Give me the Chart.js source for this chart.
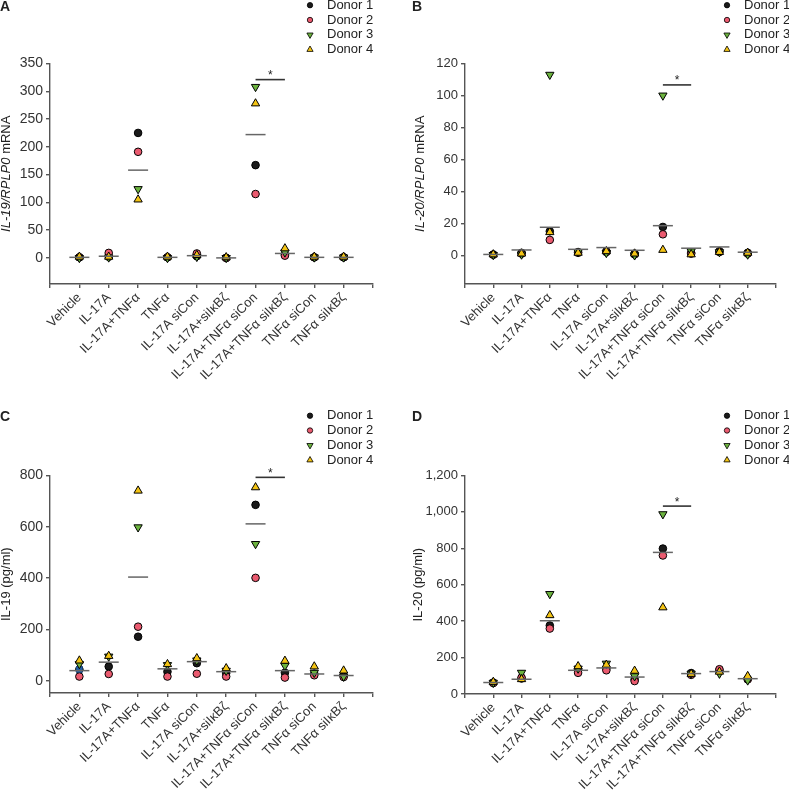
<!DOCTYPE html>
<html>
<head>
<meta charset="utf-8">
<script src="https://cdn.jsdelivr.net/npm/chart.js@4.4.1/dist/chart.umd.min.js"></script>
<style>
  html, body { margin: 0; padding: 0; background: #fff; }
  #wrap { position: relative; width: 789px; height: 794px; overflow: hidden; }
  canvas { position: absolute; }
</style>
</head>
<body>
<div id="wrap">
  <canvas id="chartA" width="394" height="397" style="left:0;top:0"></canvas>
  <canvas id="chartB" width="394" height="397" style="left:395px;top:0"></canvas>
  <canvas id="chartC" width="394" height="397" style="left:0;top:397px"></canvas>
  <canvas id="chartD" width="394" height="397" style="left:395px;top:397px"></canvas>
</div>
<script>
const FONT = '"Liberation Sans", Arial, sans-serif';
Chart.defaults.font.family = FONT;
Chart.defaults.font.size = 13;
Chart.defaults.color = '#333';

const categories = ['Vehicle', 'IL-17A', 'IL-17A+TNFα', 'TNFα', 'IL-17A siCon', 'IL-17A+siIκBζ',
  'IL-17A+TNFα siCon', 'IL-17A+TNFα siIκBζ', 'TNFα siCon', 'TNFα siIκBζ'];
const donors = ['Donor 1', 'Donor 2', 'Donor 3', 'Donor 4'];
const xTicks = [0, 1, 2, 3, 4, 5, 6, 7, 8, 9, 10, 11];

// A - IL-19/RPLP0 mRNA
const mrna19D1 = [1, 2, 225, 1, 3, 0, 167, 6, 1, 1];
const mrna19D2 = [1, 9, 191, 1, 8, 0, 115, 4, 1, 1];
const mrna19D3 = [0, 1, 124, 0, 2, 0, 308, 10, 1, 1];
const mrna19D4 = [2, 2, 105, 2, 5, 1, 278, 17, 2, 2];
const mrna19Median = [1, 3, 158, 1, 4, 0, 222, 8, 1, 1];
const mrna19Ticks = [0, 50, 100, 150, 200, 250, 300, 350];

// B - IL-20/RPLP0 mRNA
const mrna20D1 = [0.5, 1.5, 15, 2, 2.5, 1, 17.7, 1.5, 2.5, 1.5];
const mrna20D2 = [0.3, 1, 9.6, 1.5, 2, 0.5, 13.1, 1, 2, 1];
const mrna20D3 = [0.2, 0.5, 113, 2, 1.5, 0, 100, 2.5, 2, 0.5];
const mrna20D4 = [0.5, 1, 14.4, 1.5, 2.5, 1, 3.3, 0.5, 2, 1.5];
const mrna20Median = [0.5, 3.3, 17.5, 3.7, 4.8, 3.1, 18.5, 4.4, 5.2, 1.9];
const mrna20Ticks = [0, 20, 40, 60, 80, 100, 120];

// C - IL-19 (pg/ml)
const prot19D1 = [45, 56, 172, 36, 69, 30, 685, 32, 28, 20];
const prot19D2 = [17, 27, 211, 17, 28, 17, 401, 13, 22, 15];
const prot19D3 = [66, 95, 598, 62, 80, 40, 533, 59, 32, 17];
const prot19D4 = [79, 97, 740, 65, 88, 49, 753, 78, 56, 40];
const prot19Median = [40, 73, 404, 47, 75, 36, 611, 40, 27, 21];
const prot19Extra = [{x: 1, y: 45}];
const prot19Ticks = [0, 200, 400, 600, 800];

// D - IL-20 (pg/ml)
const prot20D1 = [63, 85, 376, 135, 140, 80, 798, 115, 130, 83];
const prot20D2 = [60, 90, 359, 116, 130, 71, 760, 105, 136, 80];
const prot20D3 = [62, 117, 549, 140, 167, 98, 987, 112, 112, 75];
const prot20D4 = [66, 81, 432, 152, 160, 127, 475, 110, 122, 98];
const prot20Median = [63, 81, 402, 130, 143, 93, 777, 112, 123, 84];
const prot20Ticks = [0, 200, 400, 600, 800, 1000, 1200];

// significance bar between group 7 and 8
const sigPair = [7, 8];

const decor = {
  id: 'decor',
  afterDraw(chart, args, o) {
    const ctx = chart.ctx, area = chart.chartArea;
    ctx.save();
    ctx.fillStyle = '#222';
    ctx.textAlign = 'left';
    ctx.textBaseline = 'middle';
    ctx.font = 'bold 14px ' + FONT;
    ctx.fillText(o.letter, o.letterX, o.letterY);

    // legend
    ctx.font = '13px ' + FONT;
    chart.data.datasets.slice(0, 4).forEach((ds, i) => {
      const y = o.legendY + i * 14.8;
      ctx.fillStyle = ds.pointBackgroundColor;
      ctx.strokeStyle = '#000';
      ctx.lineWidth = 0.8;
      Chart.helpers.drawPoint(ctx, {
        pointStyle: ds.pointStyle,
        rotation: ds.pointRotation || 0,
        radius: ds.pointStyle === 'circle' ? 2.7 : 3.6,
        borderWidth: 0.8
      }, o.legendX, y);
      ctx.fillStyle = '#222';
      ctx.fillText(ds.label, o.legendX + 17, y);
    });

    // y title with italic gene names
    ctx.save();
    ctx.translate(o.titleX, (area.top + area.bottom) / 2);
    ctx.rotate(-Math.PI / 2);
    const fontFor = it => (it ? 'italic ' : '') + '13px ' + FONT;
    let total = 0;
    o.title.forEach(([t, it]) => { ctx.font = fontFor(it); total += ctx.measureText(t).width; });
    let tx = -total / 2;
    ctx.fillStyle = '#222';
    o.title.forEach(([t, it]) => {
      ctx.font = fontFor(it);
      ctx.fillText(t, tx, 0);
      tx += ctx.measureText(t).width;
    });
    ctx.restore();

    // asterisk
    const xs = chart.scales.x, ys = chart.scales.y;
    ctx.font = '12px ' + FONT;
    ctx.textAlign = 'center';
    ctx.textBaseline = 'alphabetic';
    ctx.fillStyle = '#222';
    ctx.fillText('*', xs.getPixelForValue((sigPair[0] + sigPair[1]) / 2), ys.getPixelForValue(o.sigY) - 0.5);
    ctx.restore();
  }
};

const toPts = vals => vals.map((v, i) => ({x: i + 1, y: v}));
const axisGrid = {drawOnChartArea: false, tickLength: 4, color: '#555', lineWidth: 1.4};
const axisBorder = {color: '#555', width: 1.4};

const makePanel = (id, cfg) => {
  const datasets = [
    {label: donors[0], data: toPts(cfg.d1), pointStyle: 'circle', pointRadius: 3.8,
     pointBackgroundColor: '#1a1a1a', order: 6},
    {label: donors[1], data: toPts(cfg.d2), pointStyle: 'circle', pointRadius: 3.8,
     pointBackgroundColor: '#ea5a6f', order: 5},
    {label: donors[2], data: toPts(cfg.d3), pointStyle: 'triangle', pointRotation: 180, pointRadius: 4.8,
     pointBackgroundColor: '#6cb33f', order: 3},
    {label: donors[3], data: toPts(cfg.d4), pointStyle: 'triangle', pointRadius: 4.8,
     pointBackgroundColor: '#f4c414', order: 2},
    {label: 'median', data: toPts(cfg.med), pointStyle: 'line', pointRadius: 10,
     pointBorderColor: '#666', pointBorderWidth: 1.5, order: 1},
    {label: 'sig', data: sigPair.map(x => ({x, y: cfg.sigY})), showLine: true, pointRadius: 0,
     borderColor: '#333', borderWidth: 1.6, order: 1}
  ];
  datasets.slice(0, 4).forEach(ds => { ds.pointBorderColor = '#000'; ds.pointBorderWidth = 1; });
  if (cfg.extra) {
    datasets.push({label: 'extra', data: cfg.extra, pointStyle: 'rect', pointRadius: 4.6,
      pointBackgroundColor: '#1f5fa8', pointBorderColor: '#1f5fa8', pointBorderWidth: 0, order: 4});
  }
  new Chart(id, {
    type: 'scatter',
    data: {datasets},
    options: {
      responsive: false,
      animation: false,
      events: [],
      locale: 'en-US',
      layout: {padding: {left: 0, top: cfg.top, right: cfg.right, bottom: 0}},
      plugins: {legend: {display: false}, tooltip: {enabled: false}, decor: cfg.decor},
      elements: {point: {hoverRadius: 0}},
      datasets: {scatter: {clip: false}},
      scales: {
        x: {
          type: 'linear', min: 0, max: 11,
          afterBuildTicks: s => { s.ticks = xTicks.map(v => ({value: v})); },
          afterFit: s => { s.height = cfg.xHeight; },
          ticks: {autoSkip: false, minRotation: 45, maxRotation: 45, padding: 2,
            callback: v => categories[v - 1] || ''},
          grid: axisGrid,
          border: axisBorder
        },
        y: {
          min: cfg.yMin, max: cfg.yMax,
          afterBuildTicks: s => { s.ticks = cfg.yTicks.map(v => ({value: v})); },
          afterFit: s => { s.width = cfg.yWidth; },
          ticks: {padding: 3, font: {size: cfg.yFont}},
          grid: axisGrid,
          border: axisBorder
        }
      }
    },
    plugins: [decor]
  });
};

makePanel('chartA', {
  d1: mrna19D1, d2: mrna19D2, d3: mrna19D3, d4: mrna19D4, med: mrna19Median, sigY: 321,
  yMin: -47, yMax: 350, yTicks: mrna19Ticks, yFont: 14,
  top: 63.5, right: 21, xHeight: 113, yWidth: 50,
  decor: {letter: 'A', letterX: 0, letterY: 7, legendX: 310, legendY: 5.2, titleX: 6,
    title: [['IL-19/RPLP0', true], [' mRNA', false]], sigY: 321}
});

makePanel('chartB', {
  d1: mrna20D1, d2: mrna20D2, d3: mrna20D3, d4: mrna20D4, med: mrna20Median, sigY: 106.6,
  yMin: -18, yMax: 120, yTicks: mrna20Ticks, yFont: 13,
  top: 63.5, right: 1, xHeight: 113, yWidth: 70,
  decor: {letter: 'B', letterX: 17, letterY: 7, legendX: 332, legendY: 5.2, titleX: 25,
    title: [['IL-20/RPLP0', true], [' mRNA', false]], sigY: 106.6}
});

makePanel('chartC', {
  d1: prot19D1, d2: prot19D2, d3: prot19D3, d4: prot19D4, med: prot19Median, sigY: 792,
  extra: prot19Extra,
  yMin: -47, yMax: 800, yTicks: prot19Ticks, yFont: 14,
  top: 78.3, right: 21, xHeight: 101, yWidth: 50,
  decor: {letter: 'C', letterX: 0, letterY: 20, legendX: 310, legendY: 18.7, titleX: 6,
    title: [['IL-19 (pg/ml)', false]], sigY: 792}
});

makePanel('chartD', {
  d1: prot20D1, d2: prot20D2, d3: prot20D3, d4: prot20D4, med: prot20Median, sigY: 1031,
  yMin: 0, yMax: 1200, yTicks: prot20Ticks, yFont: 13,
  top: 78.3, right: 1, xHeight: 100, yWidth: 70,
  decor: {letter: 'D', letterX: 17, letterY: 20, legendX: 332, legendY: 18.7, titleX: 23,
    title: [['IL-20 (pg/ml)', false]], sigY: 1031}
});
</script>
</body>
</html>
